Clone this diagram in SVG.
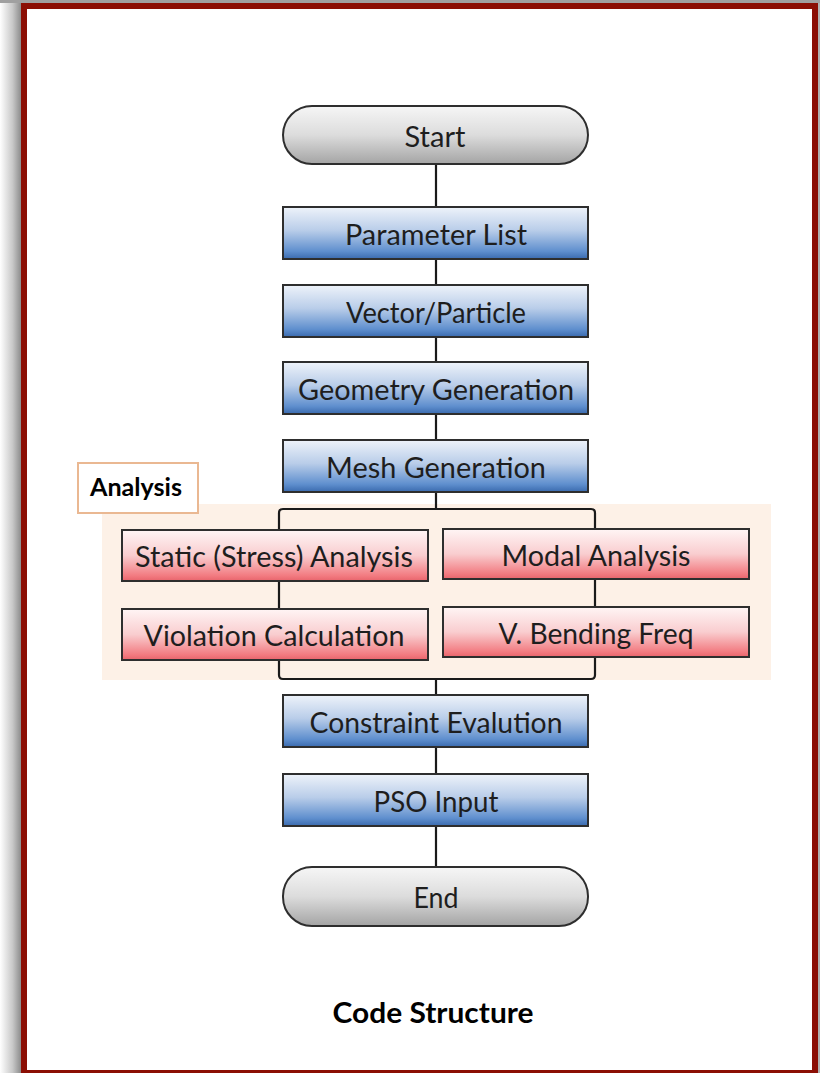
<svg xmlns="http://www.w3.org/2000/svg" width="820" height="1073" viewBox="0 0 820 1073">
<defs>
<linearGradient id="shadow" x1="0" y1="0" x2="1" y2="0">
<stop offset="0" stop-color="#ffffff"/>
<stop offset="0.6" stop-color="#c8c8c8"/>
<stop offset="1" stop-color="#8c8c8c"/>
</linearGradient>
<linearGradient id="blue" x1="0" y1="0" x2="0" y2="1">
<stop offset="0" stop-color="#eef3fa"/>
<stop offset="0.45" stop-color="#b9cde9"/>
<stop offset="0.85" stop-color="#5f8fce"/>
<stop offset="1" stop-color="#3a6aae"/>
</linearGradient>
<linearGradient id="red" x1="0" y1="0" x2="0" y2="1">
<stop offset="0" stop-color="#fff5f5"/>
<stop offset="0.5" stop-color="#f9cdcf"/>
<stop offset="0.9" stop-color="#f27a80"/>
<stop offset="1" stop-color="#e7646b"/>
</linearGradient>
<linearGradient id="gray" x1="0" y1="0" x2="0" y2="1">
<stop offset="0" stop-color="#f6f6f6"/>
<stop offset="0.5" stop-color="#dcdcdc"/>
<stop offset="1" stop-color="#a4a4a4"/>
</linearGradient>
<style>
.box{stroke:#2e2e2e;stroke-width:2}
.b{fill:url(#blue)}
.r{fill:url(#red)}
.g{fill:url(#gray)}
.t{font-family:Lato,"Open Sans","Liberation Sans",sans-serif;font-size:29px;fill:#1e1e1e;text-anchor:middle}
.bt{font-family:Lato,"Open Sans","Liberation Sans",sans-serif;font-weight:bold;fill:#000;text-anchor:middle}
.c{fill:none;stroke:#1a1a1a;stroke-width:2.2}
</style>
</defs>
<!-- frame -->
<rect x="0" y="0" width="21" height="1073" fill="url(#shadow)"/>
<rect x="0" y="0" width="820" height="3" fill="#a0a0a0"/>
<rect x="21" y="3" width="799" height="1070" fill="#8b0e04"/>
<rect x="27" y="9" width="785" height="1061" fill="#ffffff"/>
<rect x="818" y="3" width="2" height="1070" fill="#b0b0b0"/>

<!-- analysis background -->
<g id="analysis-region">
<rect x="102" y="504" width="669" height="176" fill="#fdf1e7"/>
</g>

<g id="connectors">
<path class="c" d="M436 164V207M436 259V285M436 337V362M436 414V440M436 492V509"/>
<path class="c" d="M279 530V513Q279 509 283 509H591Q595 509 595 513V529"/>
<path class="c" d="M279 581V609M595 579V607"/>
<path class="c" d="M279 660V675Q279 679 283 679H591Q595 679 595 675V657"/>
<path class="c" d="M436 679V695M436 747V774M436 826V867"/>
</g>

<g id="start">
<rect class="box g" x="283" y="106" width="305" height="58" rx="29"/>
<text class="t" x="435" y="147" textLength="61" lengthAdjust="spacingAndGlyphs">Start</text>
</g>
<g id="parameter-list">
<rect class="box b" x="283" y="207" width="305" height="52"/>
<text class="t" x="436" y="245" textLength="182" lengthAdjust="spacingAndGlyphs">Parameter List</text>
</g>
<g id="vector-particle">
<rect class="box b" x="283" y="285" width="305" height="52"/>
<text class="t" x="436" y="323" textLength="180" lengthAdjust="spacingAndGlyphs">Vector/Particle</text>
</g>
<g id="geometry-generation">
<rect class="box b" x="283" y="362" width="305" height="52"/>
<text class="t" x="436" y="400" textLength="276" lengthAdjust="spacingAndGlyphs">Geometry Generation</text>
</g>
<g id="mesh-generation">
<rect class="box b" x="283" y="440" width="305" height="52"/>
<text class="t" x="436" y="478" textLength="220" lengthAdjust="spacingAndGlyphs">Mesh Generation</text>
</g>
<g id="analysis-label">
<rect x="78" y="463" width="120" height="50" fill="#ffffff" stroke="#eab892" stroke-width="2"/>
<text class="bt" x="136" y="496" font-size="25" textLength="92" lengthAdjust="spacingAndGlyphs">Analysis</text>
</g>
<g id="static-analysis">
<rect class="box r" x="122" y="530" width="306" height="51"/>
<text class="t" x="274" y="567" textLength="278" lengthAdjust="spacingAndGlyphs">Static (Stress) Analysis</text>
</g>
<g id="violation-calculation">
<rect class="box r" x="122" y="609" width="306" height="51"/>
<text class="t" x="274" y="646" textLength="261" lengthAdjust="spacingAndGlyphs">Violation Calculation</text>
</g>
<g id="modal-analysis">
<rect class="box r" x="443" y="529" width="306" height="50"/>
<text class="t" x="596" y="566" textLength="189" lengthAdjust="spacingAndGlyphs">Modal Analysis</text>
</g>
<g id="v-bending-freq">
<rect class="box r" x="443" y="607" width="306" height="50"/>
<text class="t" x="596" y="644" textLength="195" lengthAdjust="spacingAndGlyphs">V. Bending Freq</text>
</g>
<g id="constraint-evalution">
<rect class="box b" x="283" y="695" width="305" height="52"/>
<text class="t" x="436" y="733" textLength="253" lengthAdjust="spacingAndGlyphs">Constraint Evalution</text>
</g>
<g id="pso-input">
<rect class="box b" x="283" y="774" width="305" height="52"/>
<text class="t" x="436" y="812" textLength="125" lengthAdjust="spacingAndGlyphs">PSO Input</text>
</g>
<g id="end">
<rect class="box g" x="283" y="867" width="305" height="59" rx="29"/>
<text class="t" x="436" y="908" textLength="45" lengthAdjust="spacingAndGlyphs">End</text>
</g>
<g id="caption">
<text class="bt" x="433" y="1023" font-size="28" textLength="201" lengthAdjust="spacingAndGlyphs">Code Structure</text>
</g>
</svg>
